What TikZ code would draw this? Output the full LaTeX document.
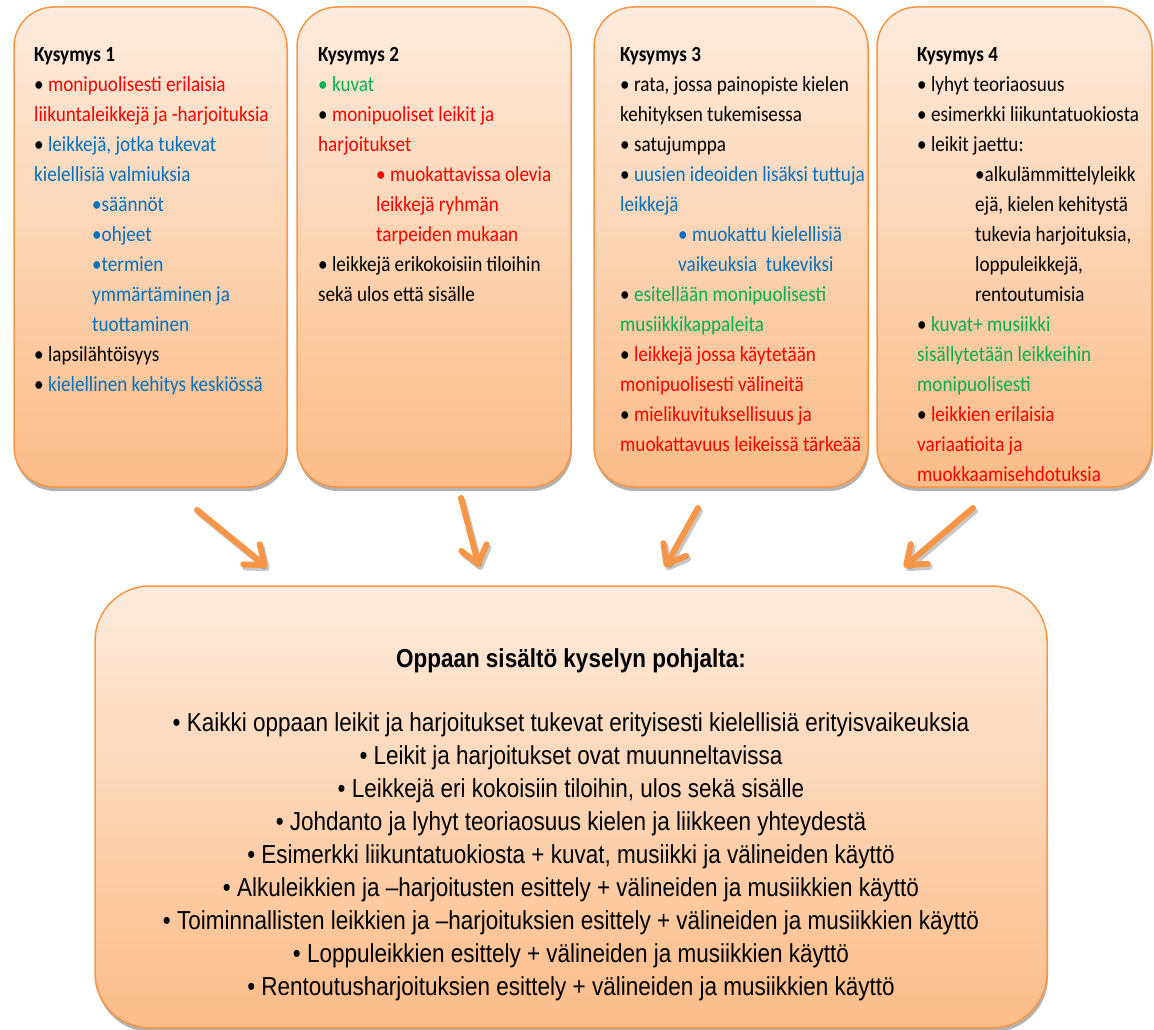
\documentclass[tikz,border=0pt]{standalone}
\usepackage{fontspec}
\setmainfont[FakeStretch=0.89]{Carlito}
\newfontfamily\arialn[FakeStretch=0.865]{Liberation Sans}
\usetikzlibrary{shadows,arrows.meta}
\definecolor{qred}{HTML}{FF0000}
\definecolor{qblue}{HTML}{0070C0}
\definecolor{qgreen}{HTML}{00B050}
\definecolor{qorange}{HTML}{F79646}
\definecolor{qtop}{HTML}{FDEBDD}
\definecolor{qbot}{HTML}{FBBC88}
\newcommand\qind{\hspace*{58pt}}
\begin{document}
\begin{tikzpicture}[x=1pt,y=-1pt,
  qbox/.style={draw=qorange, line width=1.5pt, top color=qtop, bottom color=qbot,
    drop shadow={shadow xshift=1pt, shadow yshift=-4pt, opacity=0.3, fill=black},
    inner sep=0pt},
  qtext/.style={anchor=base west, inner sep=0pt, font=\fontsize{21.5}{30}\selectfont},
  qarrow/.style={draw=qorange, line width=6pt, line cap=round,
    -{Straight Barb[length=17pt,width=26pt,line cap=round,line join=round]}},
  qarrowsh/.style={draw=black, opacity=0.22, line width=6pt, line cap=round,
    transform canvas={xshift=2pt,yshift=-3pt},
    -{Straight Barb[length=17pt,width=26pt,line cap=round,line join=round]}},
]
\useasboundingbox (0,0) rectangle (1154,1030);

% top boxes
\node[qbox, rounded corners=40pt, minimum width=273pt, minimum height=480pt] (k1) at (150.5,247) {};
\node[qbox, rounded corners=40pt, minimum width=274pt, minimum height=480pt] (k2) at (434,247) {};
\node[qbox, rounded corners=40pt, minimum width=274pt, minimum height=480pt] (k3) at (731,247) {};
\node[qbox, rounded corners=40pt, minimum width=275pt, minimum height=480pt] (k4) at (1014.5,247) {};

% bottom box
\node[qbox, rounded corners=55pt, minimum width=952pt, minimum height=442pt] (sum) at (571,807) {};

% texts
\node[qtext] (k1t) at (34,62) {\parbox[t]{300pt}{\raggedright
\textbf{Kysymys 1}\\
• \textcolor{qred}{monipuolisesti erilaisia}\\
\textcolor{qred}{liikuntaleikkejä ja -harjoituksia}\\
• \textcolor{qblue}{leikkejä, jotka tukevat}\\
\textcolor{qblue}{kielellisiä valmiuksia}\\
\qind\textcolor{qblue}{•säännöt}\\
\qind\textcolor{qblue}{•ohjeet}\\
\qind\textcolor{qblue}{•termien}\\
\qind\textcolor{qblue}{ymmärtäminen ja}\\
\qind\textcolor{qblue}{tuottaminen}\\
• lapsilähtöisyys\\
• \textcolor{qblue}{kielellinen kehitys keskiössä}}};

\node[qtext] (k2t) at (318,62) {\parbox[t]{300pt}{\raggedright
\textbf{Kysymys 2}\\
\textcolor{qgreen}{• kuvat}\\
• \textcolor{qred}{monipuoliset leikit ja}\\
\textcolor{qred}{harjoitukset}\\
\qind\textcolor{qred}{• muokattavissa olevia}\\
\qind\textcolor{qred}{leikkejä ryhmän}\\
\qind\textcolor{qred}{tarpeiden mukaan}\\
• leikkejä erikokoisiin tiloihin\\
sekä ulos että sisälle}};

\node[qtext] (k3t) at (620,62) {\parbox[t]{300pt}{\raggedright
\textbf{Kysymys 3}\\
• rata, jossa painopiste kielen\\
kehityksen tukemisessa\\
• satujumppa\\
• \textcolor{qblue}{uusien ideoiden lisäksi tuttuja}\\
\textcolor{qblue}{leikkejä}\\
\qind\textcolor{qblue}{• muokattu kielellisiä}\\
\qind\textcolor{qblue}{vaikeuksia\ \ tukeviksi}\\
• \textcolor{qgreen}{esitellään monipuolisesti}\\
\textcolor{qgreen}{musiikkikappaleita}\\
• \textcolor{qred}{leikkejä jossa käytetään}\\
\textcolor{qred}{monipuolisesti välineitä}\\
• \textcolor{qred}{mielikuvituksellisuus ja}\\
\textcolor{qred}{muokattavuus leikeissä tärkeää}}};

\node[qtext] (k4t) at (917,62) {\parbox[t]{300pt}{\raggedright
\textbf{Kysymys 4}\\
• lyhyt teoriaosuus\\
• esimerkki liikuntatuokiosta\\
• leikit jaettu:\\
\qind•alkulämmittelyleikk\\
\qind ejä, kielen kehitystä\\
\qind tukevia harjoituksia,\\
\qind loppuleikkejä,\\
\qind rentoutumisia\\
• \textcolor{qgreen}{kuvat+ musiikki}\\
\textcolor{qgreen}{sisällytetään leikkeihin}\\
\textcolor{qgreen}{monipuolisesti}\\
• \textcolor{qred}{leikkien erilaisia}\\
\textcolor{qred}{variaatioita ja}\\
\textcolor{qred}{muokkaamisehdotuksia}}};

% bottom texts
\node[anchor=base, inner sep=0pt, font=\arialn\fontsize{26}{33}\selectfont\bfseries] (bt) at (571,667) {Oppaan sisältö kyselyn pohjalta:};
\node[anchor=base, inner sep=0pt, font=\arialn\fontsize{26}{33.1}\selectfont] (blist) at (571,731) {\parbox[t]{950pt}{\centering
• Kaikki oppaan leikit ja harjoitukset tukevat erityisesti kielellisiä erityisvaikeuksia\\
• Leikit ja harjoitukset ovat muunneltavissa\\
• Leikkejä eri kokoisiin tiloihin, ulos sekä sisälle\\
• Johdanto ja lyhyt teoriaosuus kielen ja liikkeen yhteydestä\\
• Esimerkki liikuntatuokiosta + kuvat, musiikki ja välineiden käyttö\\
• Alkuleikkien ja –harjoitusten esittely + välineiden ja musiikkien käyttö\\
• Toiminnallisten leikkien ja –harjoituksien esittely + välineiden ja musiikkien käyttö\\
• Loppuleikkien esittely + välineiden ja musiikkien käyttö\\
• Rentoutusharjoituksien esittely + välineiden ja musiikkien käyttö}};

% arrows
\coordinate (a1s) at (197,510); \coordinate (a1e) at (267,567);
\coordinate (a2s) at (461,498); \coordinate (a2e) at (479,567);
\coordinate (a3s) at (698,508); \coordinate (a3e) at (665,567);
\coordinate (a4s) at (973,508); \coordinate (a4e) at (904,567);
\foreach \i in {1,2,3,4} {
  \draw[qarrowsh] (a\i s) -- (a\i e);
  \draw[qarrow] (a\i s) -- (a\i e);
}
\end{tikzpicture}
\end{document}
